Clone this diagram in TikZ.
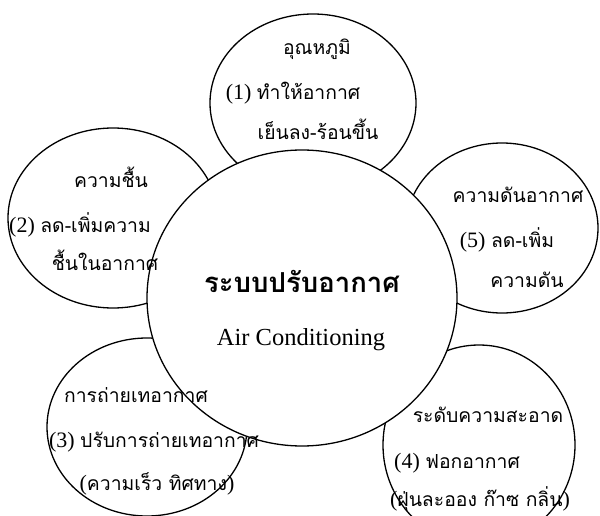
\documentclass[tikz,border=0pt]{standalone}
\usepackage{fontspec}
\setmainfont{Liberation Serif}
\newfontfamily\thaifnt[Script=Thai,Scale=0.88]{Loma}
\newfontfamily\thaibig[Script=Thai,Scale=1.25]{Loma}
\usetikzlibrary{shapes.geometric}
\begin{document}
\begin{tikzpicture}[x=1pt,y=-1pt,
  bub/.style={draw,line width=1.3pt,fill=white,ellipse,inner sep=0pt},
  lbl/.style={inner sep=0pt,anchor=base,font=\fontsize{22}{26}\selectfont},
  ]
\useasboundingbox (0,0) rectangle (600,516);
\clip (0,0) rectangle (600,516);
% outer bubbles
\node[bub,minimum width=206pt,minimum height=178pt] (T) at (313,103) {};
\node[bub,minimum width=210pt,minimum height=180pt] (L) at (113,218) {};
\node[bub,minimum width=192pt,minimum height=170pt] (R) at (502,228) {};
\node[bub,minimum width=200pt,minimum height=178pt] (BL) at (147,427) {};
\node[bub,minimum width=192pt,minimum height=200pt] (BR) at (479,445) {};
% centre bubble
\node[bub,minimum width=310pt,minimum height=296pt] (C) at (302,298) {};
% texts
\node[lbl] (t1) at (317,55) {\thaifnt อุณหภูมิ};
\node[lbl] (t2) at (293,100) {(1) {\thaifnt ทำให้อากาศ}};
\node[lbl] (t3) at (318,140) {\thaifnt เย็นลง-ร้อนขึ้น};
\node[lbl] (l1) at (111,188) {\thaifnt ความชื้น};
\node[lbl] (l2) at (80,233) {(2) {\thaifnt ลด-เพิ่มความ}};
\node[lbl] (l3) at (105,270) {\thaifnt ชื้นในอากาศ};
\node[lbl] (r1) at (518,202) {\thaifnt ความดันอากาศ};
\node[lbl] (r2) at (507,247) {(5) {\thaifnt ลด-เพิ่ม}};
\node[lbl] (r3) at (527,287) {\thaifnt ความดัน};
\node[lbl] (c1) at (302,292) {\thaibig\bfseries ระบบปรับอากาศ};
\node[lbl,font=\fontsize{24.5}{28}\selectfont] (c2) at (301,345) {Air Conditioning};
\node[lbl] (b1) at (136,402) {\thaifnt การถ่ายเทอากาศ};
\node[lbl] (b2) at (154,447) {(3) {\thaifnt ปรับการถ่ายเทอากาศ}};
\node[lbl] (b3) at (157,490) {({\thaifnt ความเร็ว ทิศทาง})};
\node[lbl] (d1) at (488,422) {\thaifnt ระดับความสะอาด};
\node[lbl] (d2) at (457,468) {(4) {\thaifnt ฟอกอากาศ}};
\node[lbl] (d3) at (480,506) {({\thaifnt ฝุ่นละออง ก๊าซ กลิ่น})};
\end{tikzpicture}
\end{document}
